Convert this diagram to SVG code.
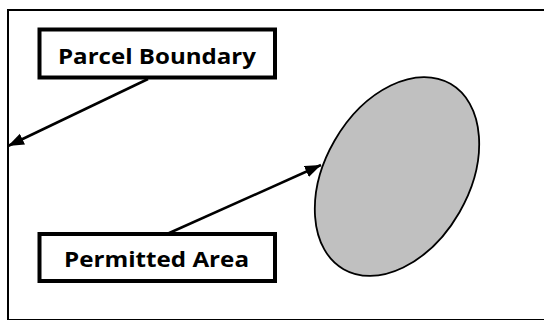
<svg xmlns="http://www.w3.org/2000/svg" width="544" height="320" viewBox="0 0 544 320">
<style>
.box{fill:#fff;stroke:#000;stroke-width:4}
.lbl{font-family:"Open Sans","Liberation Sans",sans-serif;font-weight:bold;font-size:22px;fill:#000;text-anchor:middle}
.conn{stroke:#000;stroke-width:2.5;fill:none;marker-end:url(#arr)}
</style>
<defs>
<marker id="arr" markerUnits="userSpaceOnUse" markerWidth="18" markerHeight="14" refX="16" refY="6" orient="auto">
<path d="M0,0 L16,6 L0,12 z" fill="#000"/>
</marker>
</defs>
<rect width="544" height="320" fill="#fff"/>
<g id="boundary">
<rect x="8" y="10" width="560" height="310" fill="none" stroke="#000" stroke-width="2"/>
</g>
<g id="area">
<ellipse cx="397" cy="176.5" rx="107" ry="72" transform="rotate(-60 397 176.5)" fill="#c0c0c0" stroke="#000" stroke-width="1.8"/>
</g>
<g id="connectors">
<line class="conn" x1="148" y1="79" x2="8" y2="146"/>
<line class="conn" x1="167" y1="234" x2="321" y2="165"/>
</g>
<g id="parcel-label">
<rect class="box" x="39.5" y="29.5" width="235.5" height="48"/>
<text class="lbl" x="157" y="64" textLength="198" lengthAdjust="spacingAndGlyphs">Parcel Boundary</text>
</g>
<g id="permitted-label">
<rect class="box" x="39.5" y="234" width="235.5" height="47"/>
<text class="lbl" x="156.5" y="267" textLength="185" lengthAdjust="spacingAndGlyphs">Permitted Area</text>
</g>
</svg>
